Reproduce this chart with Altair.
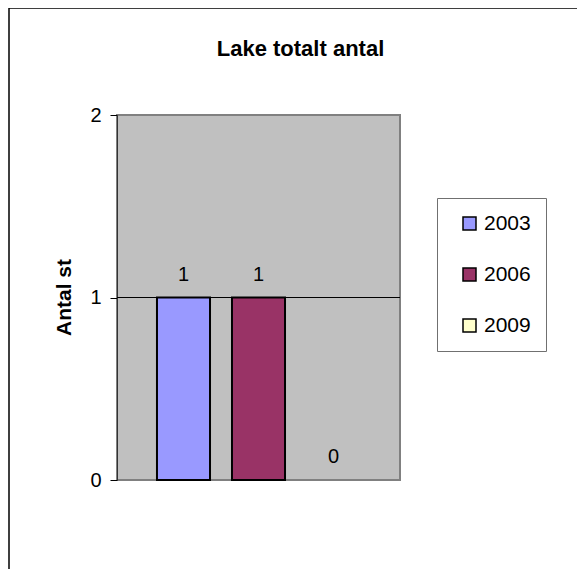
import altair as alt
import pandas as pd

years = ["2003", "2006", "2009"]
values = [1, 1, 0]
colors = ["#9999FF", "#993366", "#FFFFCC"]
title_text = "Lake totalt antal"
y_ticks = [0, 1, 2]

df = pd.DataFrame({"year": years, "value": values})

FONT = "Liberation Sans"

x_enc = alt.X("year:N", scale=alt.Scale(domain=years, paddingInner=0.293, paddingOuter=0.533), axis=None)
y_scale = alt.Scale(domain=[0, 2])
y_axis = alt.Axis(values=y_ticks, format=".0f", grid=False, tickSize=7, tickColor="black",
                  domainColor="#333333", labelFont=FONT, labelFontSize=20,
                  labelColor="black", labelPadding=9, labelOverlap=False,
                  title="Antal st",
                  titleFont=FONT, titleFontSize=21, titleFontWeight="bold",
                  titleColor="black", titleX=-47, titleY=182, titleAngle=270,
                  titleAlign="center", titleBaseline="alphabetic")

bars = alt.Chart(df).mark_bar(stroke="black", strokeWidth=2).encode(
    x=x_enc,
    y=alt.Y("value:Q", scale=y_scale, axis=y_axis),
    strokeOpacity=alt.condition("datum.value > 0", alt.value(1), alt.value(0)),
    color=alt.Color("year:N", scale=alt.Scale(domain=years, range=colors),
                    legend=alt.Legend(title=None, orient="none", legendX=320, legendY=83,
                                      strokeColor="#707070", padding=15, symbolOffset=7,
                                      symbolType="square", symbolSize=169,
                                      symbolStrokeColor="black", symbolStrokeWidth=1.5,
                                      labelFont=FONT, labelFontSize=21, labelColor="black",
                                      rowPadding=29, labelOffset=4, fillColor="white")),
)

grid = alt.Chart(pd.DataFrame({"value": [1]})).mark_rule(color="black", strokeWidth=1).encode(
    y=alt.Y("value:Q", scale=y_scale, axis=y_axis)
)

labels = alt.Chart(df).mark_text(font=FONT, fontSize=20, color="black", baseline="alphabetic", dy=-17).encode(
    x=x_enc,
    y=alt.Y("value:Q", scale=y_scale, axis=y_axis),
    text=alt.Text("value:Q"),
)

title = alt.Chart(pd.DataFrame({"t": [title_text]})).mark_text(
    font=FONT, fontSize=22, fontWeight="bold", color="black", baseline="alphabetic", clip=False
).encode(
    x=alt.value(183.5), y=alt.value(-59), text="t:N"
)

frame = alt.Chart(pd.DataFrame({"f": [0]})).mark_rect(
    fill="transparent", fillOpacity=0, stroke="black", strokeWidth=1.5, clip=False
).encode(
    x=alt.value(-108), x2=alt.value(700), y=alt.value(-107), y2=alt.value(700)
)

chart = alt.layer(frame, bars, grid, labels, title).properties(
    width=283, height=365,
    background="white",
    autosize=alt.AutoSizeParams(type="none"),
    padding={"left": 109, "top": 107, "right": 177, "bottom": 89},
).configure_view(
    fill="#C0C0C0", stroke="#808080", strokeWidth=2
)

chart.save("out.html", embed_options={"renderer": "svg", "actions": False})
